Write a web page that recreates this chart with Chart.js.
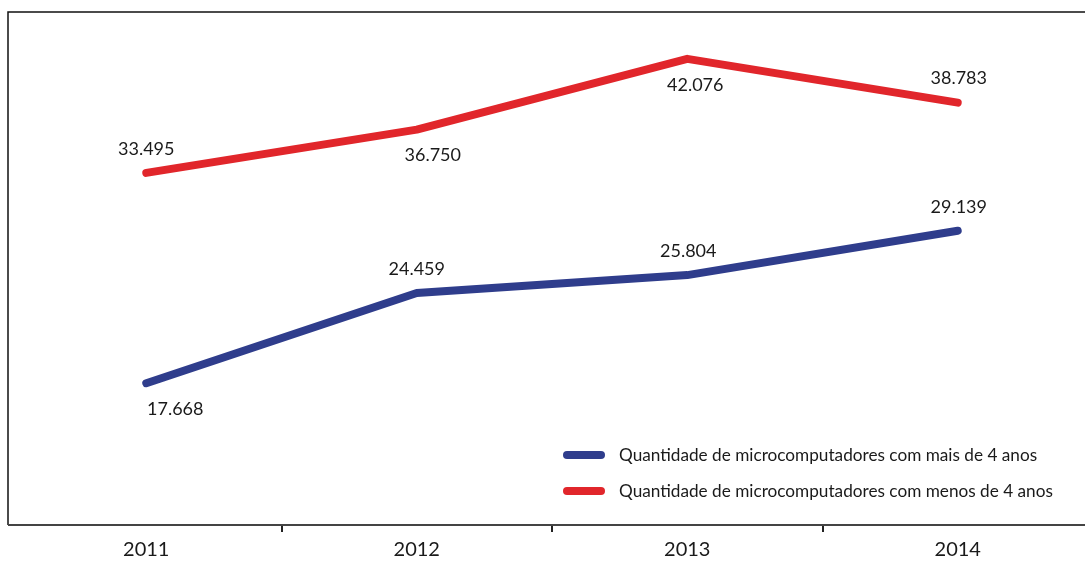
<!DOCTYPE html>
<html>
<head>
<meta charset="utf-8">
<script src="https://cdn.jsdelivr.net/npm/chart.js@4/dist/chart.umd.min.js"></script>
<style>
  html, body { margin: 0; padding: 0; background: #ffffff; overflow: hidden; }
  #wrap { width: 1100px; height: 562px; }
</style>
</head>
<body>
<div id="wrap"><canvas id="c" width="1100" height="562"></canvas></div>
<script>
// ---- data ----
const categories = ['2011', '2012', '2013', '2014'];
const seriesNames = [
  'Quantidade de microcomputadores com mais de 4 anos',
  'Quantidade de microcomputadores com menos de 4 anos'
];
const maisDe4Anos = [17.668, 24.459, 25.804, 29.139];
const menosDe4Anos = [33.495, 36.750, 42.076, 38.783];

// ---- label placement (style only) ----
const labelPlacement = [
  { pos: ['below', 'above', 'above', 'above'], dx: [29, 0, 1, 1] },
  { pos: ['above', 'below', 'below', 'above'], dx: [0, 16, 8, 1] }
];

const FONT = 'Lato, "DejaVu Sans", sans-serif';
const BLUE = '#2F3D8C';
const RED = '#E1262B';

const fmt = v => v.toFixed(3);

const frame = {
  id: 'frame',
  afterDraw(chart) {
    const { ctx, chartArea } = chart;
    const x0 = chartArea.left - 3;
    ctx.save();
    ctx.strokeStyle = '#111';
    ctx.lineWidth = 1.5;
    ctx.beginPath();
    ctx.moveTo(x0, chartArea.bottom);
    ctx.lineTo(x0, chartArea.top);
    ctx.lineTo(chart.width, chartArea.top);
    ctx.stroke();
    ctx.strokeStyle = '#444';
    ctx.lineWidth = 2;
    ctx.beginPath();
    ctx.moveTo(x0, chartArea.bottom);
    ctx.lineTo(chartArea.left + 1, chartArea.bottom);
    ctx.stroke();
    ctx.restore();
  }
};

const valueLabels = {
  id: 'valueLabels',
  afterDatasetsDraw(chart) {
    const { ctx } = chart;
    ctx.save();
    ctx.font = '18px ' + FONT;
    ctx.fillStyle = '#1a1a1a';
    ctx.textAlign = 'center';
    ctx.textBaseline = 'middle';
    chart.data.datasets.forEach((ds, di) => {
      const meta = chart.getDatasetMeta(di);
      const pl = labelPlacement[di];
      meta.data.forEach((pt, i) => {
        const dy = pl.pos[i] === 'above' ? -24 : 26;
        ctx.fillText(fmt(ds.data[i]), pt.x + pl.dx[i], pt.y + dy);
      });
    });
    ctx.restore();
  }
};

const customLegend = {
  id: 'customLegend',
  afterDraw(chart) {
    const { ctx } = chart;
    const x = 565, y0 = 455, gap = 36;
    ctx.save();
    ctx.font = '17.2px ' + FONT;
    ctx.textBaseline = 'middle';
    ctx.textAlign = 'left';
    chart.data.datasets.forEach((ds, i) => {
      const y = y0 + i * gap;
      ctx.strokeStyle = ds.borderColor;
      ctx.lineWidth = 8;
      ctx.lineCap = 'round';
      ctx.beginPath();
      ctx.moveTo(x + 2, y);
      ctx.lineTo(x + 36, y);
      ctx.stroke();
      ctx.fillStyle = '#1a1a1a';
      ctx.fillText(ds.label, x + 54, y);
    });
    ctx.restore();
  }
};

new Chart(document.getElementById('c'), {
  type: 'line',
  data: {
    labels: categories,
    datasets: [
      { label: seriesNames[0], data: maisDe4Anos, borderColor: BLUE, backgroundColor: BLUE,
        borderWidth: 8, borderCapStyle: 'round', borderJoinStyle: 'round', pointRadius: 0, tension: 0 },
      { label: seriesNames[1], data: menosDe4Anos, borderColor: RED, backgroundColor: RED,
        borderWidth: 8, borderCapStyle: 'round', borderJoinStyle: 'round', pointRadius: 0, tension: 0 }
    ]
  },
  options: {
    responsive: false,
    animation: false,
    layout: { padding: { left: 11, right: 7, top: 12, bottom: 0 } },
    plugins: { legend: { display: false }, tooltip: { enabled: false } },
    scales: {
      x: {
        offset: true,
        grid: {
          offset: true,
          drawOnChartArea: false,
          drawTicks: true,
          tickLength: 7,
          lineWidth: 2,
          color: ctx => (ctx.index === 0 ? 'rgba(0,0,0,0)' : '#222')
        },
        border: { display: true, color: '#444', width: 2 },
        ticks: { color: '#1a1a1a', font: { family: FONT, size: 20 }, padding: 6 },
        afterFit(scale) { scale.height = 37; }
      },
      y: { display: false, min: 7.0, max: 45.6 }
    }
  },
  plugins: [frame, valueLabels, customLegend]
});
</script>
</body>
</html>
